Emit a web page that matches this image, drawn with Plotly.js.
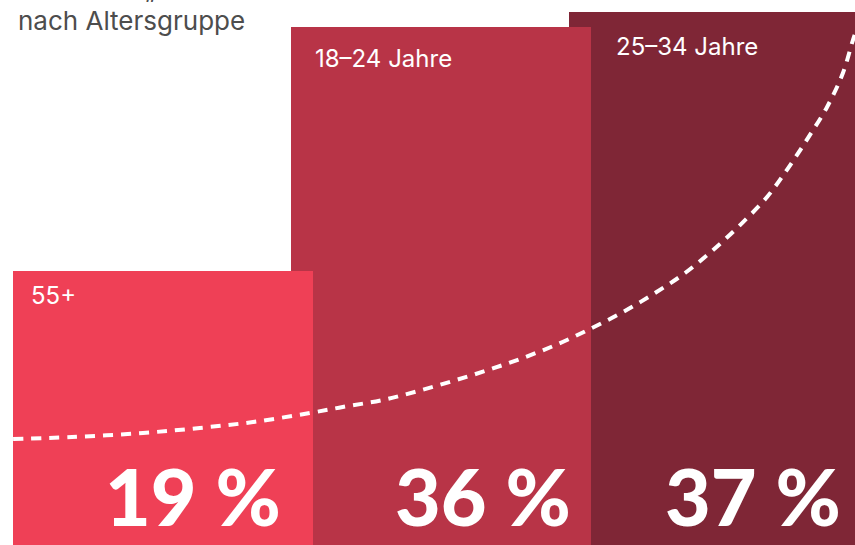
<!DOCTYPE html>
<html>
<head>
<meta charset="utf-8">
<script src="https://cdn.plot.ly/plotly-3.0.1.min.js"></script>
<style>html,body{margin:0;padding:0;background:#fff;}#chart{width:855px;height:545px;}</style>
</head>
<body>
<div id="chart"></div>
<script>
// ---- data ----
const categories = ['55+', '18–24 Jahre', '25–34 Jahre'];
const shares = [19, 36, 37];
const valueLabels = ['19 %', '36 %', '37 %'];
const subtitle = 'nach Altersgruppe';
// dashed trend curve (in axis units: category index / percent)
const trendX = [-0.538, -0.326, -0.071, 0.134, 0.325, 0.530, 0.667, 0.793, 0.918, 1.044, 1.170, 1.296, 1.422, 1.544, 1.656, 1.771, 1.879, 1.980, 2.077, 2.174, 2.250, 2.321, 2.390, 2.447, 2.483, 2.501];
const trendY = [7.36, 7.50, 7.78, 8.13, 8.54, 9.17, 9.65, 10.07, 10.69, 11.39, 12.15, 12.99, 13.96, 15.07, 16.18, 17.50, 18.89, 20.49, 22.22, 24.17, 26.18, 28.26, 30.42, 32.78, 35.07, 36.11];

// ---- styles ----
const barColors = ['#EF4056', '#B83447', '#7F2636'];
const BAR_W = 1.079;
const labelDx = [-134, -128, -105];
const labelDy = [-8, -15, -18];
const valueDx = [120, 132, 124];

const traces = [];
for (let i = categories.length - 1; i >= 0; i--) {
  traces.push({
    type: 'bar', x: [i], y: [shares[i]], width: BAR_W,
    marker: {color: barColors[i], line: {width: 0}},
    hoverinfo: 'skip', name: categories[i]
  });
}
traces.push({
  type: 'scatter', mode: 'lines', x: trendX, y: trendY,
  line: {color: '#ffffff', width: 4, dash: '10px,8px', shape: 'spline', smoothing: 1},
  hoverinfo: 'skip'
});

const annotations = [];
categories.forEach((c, i) => {
  annotations.push({
    x: i, y: shares[i], xref: 'x', yref: 'y',
    xanchor: 'left', yanchor: 'top', xshift: labelDx[i], yshift: labelDy[i],
    text: c, showarrow: false,
    font: {family: 'Inter, Roboto, sans-serif', size: 24, color: '#ffffff'}
  });
  annotations.push({
    x: i, y: 0, xref: 'x', yref: 'y',
    xanchor: 'right', yanchor: 'bottom', xshift: valueDx[i], yshift: 0,
    text: valueLabels[i], showarrow: false,
    font: {family: 'Lato, sans-serif', size: 79, color: '#ffffff', weight: 900}
  });
});
annotations.push({
  x: 16 / 855, y: 1, xref: 'paper', yref: 'paper', xanchor: 'left', yanchor: 'top',
  yshift: -3, text: subtitle, showarrow: false,
  font: {family: 'Inter, Roboto, sans-serif', size: 26, color: '#4d4d4d'}
});
annotations.push({
  x: 143 / 855, y: 1, xref: 'paper', yref: 'paper', xanchor: 'left', yanchor: 'middle',
  yshift: 11, text: '„', showarrow: false,
  font: {family: 'Inter, Roboto, sans-serif', size: 25, color: '#4d4d4d'}
});

const layout = {
  width: 855, height: 545,
  margin: {l: 0, r: 0, t: 0, b: 0},
  paper_bgcolor: '#ffffff', plot_bgcolor: '#ffffff',
  barmode: 'overlay', bargap: 0, showlegend: false,
  xaxis: {range: [-0.5851, 2.4904], visible: false, fixedrange: true},
  yaxis: {range: [0, 37.85], visible: false, fixedrange: true},
  annotations: annotations
};
Plotly.newPlot('chart', traces, layout, {displayModeBar: false, staticPlot: true});
</script>
</body>
</html>
